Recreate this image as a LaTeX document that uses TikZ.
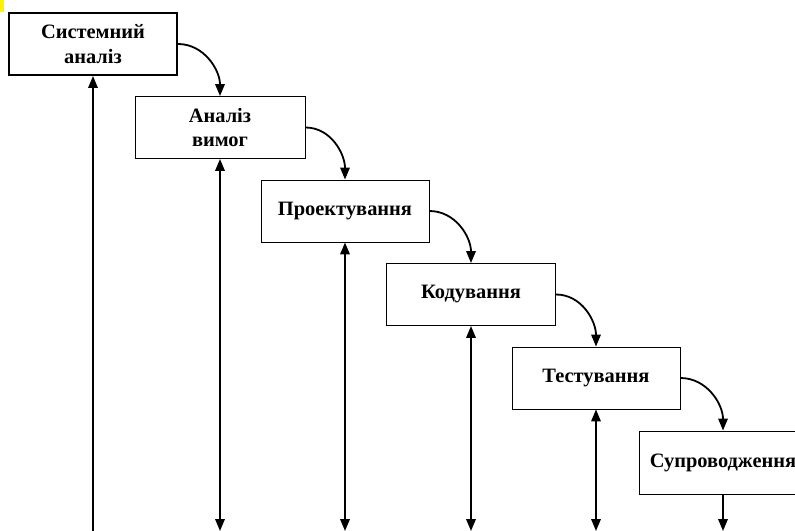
\documentclass[tikz,border=0pt]{standalone}
\usepackage{fontspec}
\setmainfont{Liberation Serif}
\usetikzlibrary{arrows.meta}
\begin{document}
\begin{tikzpicture}[x=1bp,y=-1bp,
  stagebox/.style={draw=black, line width=0.9bp, minimum width=168bp, minimum height=62bp,
    inner sep=0pt, align=center, font=\fontsize{20.5}{24.5}\selectfont\bfseries},
  conn/.style={line width=1.8bp, -{Triangle[length=12bp,width=9.5bp]}},
  dconn/.style={line width=1.8bp, {Triangle[length=12bp,width=9.5bp]}-{Triangle[length=12bp,width=9.5bp]}},
  plainconn/.style={line width=1.8bp, {Triangle[length=12bp,width=9.5bp]}-}
]
\useasboundingbox (0,0) rectangle (795,531);
\clip (0,0) rectangle (795,531);
\fill[yellow] (0,0) rectangle (4,12);
\node[stagebox, line width=2bp] (s1) at (93,44) {Системний\\аналіз};
\node[stagebox, minimum width=170bp] (s2) at (220,127.5) {Аналіз\\вимог};
\node[stagebox] (s3) at (345,211) {Проектування};
\node[stagebox, minimum width=169bp] (s4) at (471,294.5) {Кодування};
\node[stagebox] (s5) at (596,378) {Тестування};
\node[stagebox, minimum height=63bp] (s6) at (723,462.5) {Супроводження};
\coordinate (b1) at (93,531);
\coordinate (b2) at (s2.south |- b1);
\coordinate (b3) at (s3.south |- b1);
\coordinate (b4) at (s4.south |- b1);
\coordinate (b5) at (s5.south |- b1);
\coordinate (b6) at (s6.south |- b1);
\draw[plainconn] (s1.south) -- (b1);
\draw[dconn] (s2.south) -- (b2);
\draw[dconn] (s3.south) -- (b3);
\draw[dconn] (s4.south) -- (b4);
\draw[dconn] (s5.south) -- (b5);
\draw[conn] (s6.south) -- (b6);
\draw[conn] (s1.east) to[out=0,in=90] (s2.north);
\draw[conn] (s2.east) to[out=0,in=90] (s3.north);
\draw[conn] (s3.east) to[out=0,in=90] (s4.north);
\draw[conn] (s4.east) to[out=0,in=90] (s5.north);
\draw[conn] (s5.east) to[out=0,in=90] (s6.north);
\end{tikzpicture}
\end{document}
